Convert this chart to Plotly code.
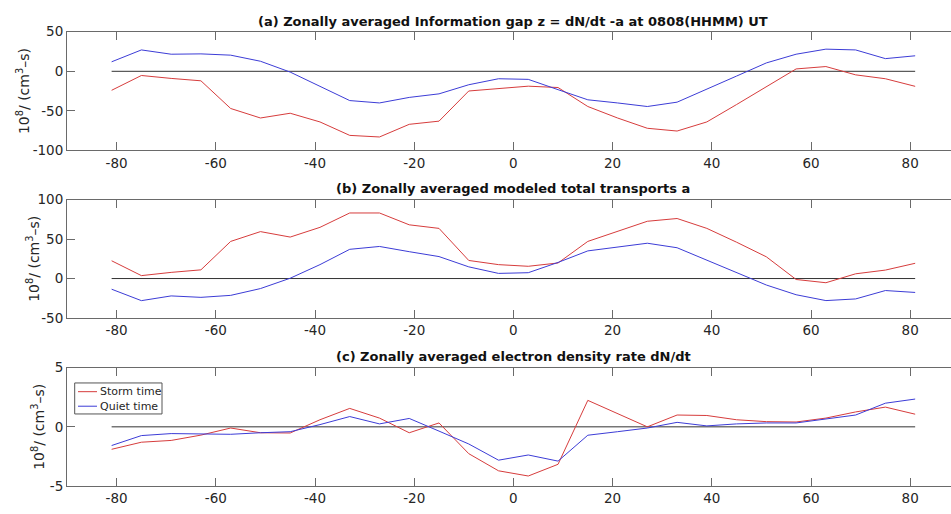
import plotly.graph_objects as go

# Latitude grid (degrees) shared by every curve
lat = [-81, -75, -69, -63, -57, -51, -45, -39, -33, -27, -21, -15, -9, -3,
       3, 9, 15, 21, 27, 33, 39, 45, 51, 57, 63, 69, 75, 81]

# (a) information gap z = dN/dt - a
gap_storm = [-24, -5.3, -9, -12, -47, -59, -53, -64, -81, -83, -67, -63, -24.9, -21.6,
             -18.8, -20.5, -44.5, -59, -72, -75.5, -64, -42, -19, 3, 6, -4.5, -9.4, -19]
gap_quiet = [12, 27, 21.6, 22, 20.4, 12.7, -1, -19, -37, -40, -33, -28.5, -17, -9.4,
             -10.2, -23.2, -36, -40, -44.5, -39, -23, -6, 10.6, 21.6, 28, 27, 16, 19.6]

# (b) modeled total transports a
trans_storm = [22.5, 3.7, 7.8, 11, 47, 59.4, 52.5, 64.8, 83, 83, 68, 63.5, 22.9, 17.6,
               15.5, 19.7, 47, 59.4, 72.5, 76, 63.5, 46, 27.5, -1.2, -5.3, 6, 10.7, 19.3]
trans_quiet = [-13.5, -28, -22, -23.8, -21.3, -12.7, 0.4, 17.6, 37, 40.6, 34, 27.8, 14.8, 6.5,
               7.4, 20.4, 35, 40, 44.7, 39, 23.4, 7, -8.2, -20.5, -27.9, -25.8, -15.2, -17.6]

# (c) electron density rate dN/dt
rate_storm = [-1.9, -1.3, -1.15, -0.7, -0.1, -0.5, -0.52, 0.6, 1.56, 0.74, -0.5, 0.33, -2.27, -3.72,
              -4.16, -3.17, 2.24, 1.15, 0.0, 1.0, 0.96, 0.6, 0.44, 0.41, 0.74, 1.26, 1.67, 1.07]
rate_quiet = [-1.58, -0.74, -0.57, -0.57, -0.63, -0.5, -0.41, 0.19, 0.87, 0.25, 0.71, -0.36, -1.45, -2.82,
              -2.38, -2.9, -0.71, -0.41, -0.1, 0.38, 0.08, 0.25, 0.33, 0.33, 0.66, 1.0, 2.0, 2.35]

zero_ref = [-81, 81]

titles = [
    "(a) Zonally averaged Information gap z = dN/dt -a at 0808(HHMM) UT",
    "(b) Zonally averaged modeled total transports a",
    "(c) Zonally averaged electron density rate dN/dt",
]
legend_names = ["Storm time", "Quiet time"]
x_ticks = [-80, -60, -40, -20, 0, 20, 40, 60, 80]
y_ticks = [[-100, -50, 0, 50], [-50, 0, 50, 100], [-5, 0, 5]]
y_ranges = [[-100, 50], [-50, 100], [-5, 5]]

W, H = 951, 514
FONT = "DejaVu Sans"
TXT = "#262626"
AX = "#6a6a6a"
RED = "#d63c3c"
BLUE = "#3c3cd6"

# vertical extent of each panel, in pixels from the top
panel_px = [(24.5, 147.0), (197.7, 320.0), (371.3, 493.3)]
title_px = [14, 186, 360]
ylabel_px = [23, 33, 38]

fig = go.Figure()

series = [(gap_storm, gap_quiet), (trans_storm, trans_quiet), (rate_storm, rate_quiet)]
for i, (storm, quiet) in enumerate(series):
    n = i + 1
    xa = "x" if n == 1 else f"x{n}"
    ya = "y" if n == 1 else f"y{n}"
    fig.add_trace(go.Scatter(x=zero_ref, y=[0, 0], mode="lines",
                             line=dict(color="#333333", width=1),
                             showlegend=False, hoverinfo="skip", xaxis=xa, yaxis=ya))
    fig.add_trace(go.Scatter(x=lat, y=storm, mode="lines", name=legend_names[0],
                             line=dict(color=RED, width=1),
                             showlegend=False, xaxis=xa, yaxis=ya))
    fig.add_trace(go.Scatter(x=lat, y=quiet, mode="lines", name=legend_names[1],
                             line=dict(color=BLUE, width=1),
                             showlegend=False, xaxis=xa, yaxis=ya))

x_left = 67.0
x_right_val = -90 + (W - x_left) / 4.96

layout = dict(
    width=W, height=H,
    margin=dict(l=0, r=0, t=0, b=0),
    paper_bgcolor="white", plot_bgcolor="white",
    font=dict(family=FONT, size=13, color=TXT),
    showlegend=False,
    annotations=[],
    shapes=[],
)

for i in range(3):
    n = i + 1
    top, bot = panel_px[i]
    xkey = "xaxis" if n == 1 else f"xaxis{n}"
    ykey = "yaxis" if n == 1 else f"yaxis{n}"
    anchor_y = "y" if n == 1 else f"y{n}"
    anchor_x = "x" if n == 1 else f"x{n}"
    layout[xkey] = dict(
        domain=[x_left / W, 1.0], range=[-90, x_right_val], anchor=anchor_y,
        tickmode="array", tickvals=x_ticks, ticktext=[str(v) for v in x_ticks],
        ticks="inside", ticklen=8, tickcolor=AX, tickwidth=1,
        showline=True, linecolor=AX, linewidth=1, mirror="ticks",
        showgrid=False, zeroline=False,
        tickfont=dict(family=FONT, size=13.5, color=TXT),
    )
    layout[ykey] = dict(
        domain=[1 - bot / H, 1 - top / H], range=y_ranges[i], anchor=anchor_x,
        tickmode="array", tickvals=y_ticks[i], ticktext=[str(v) for v in y_ticks[i]],
        ticks="inside", ticklen=8, tickcolor=AX, tickwidth=1,
        showline=True, linecolor=AX, linewidth=1, mirror=False,
        showgrid=False, zeroline=False,
        tickfont=dict(family=FONT, size=13.5, color=TXT),
    )
    layout["annotations"].append(dict(
        text="<b>" + titles[i] + "</b>", x=0, xref=anchor_x,
        y=1 - title_px[i] / H, yref="paper", xanchor="center", yanchor="middle",
        showarrow=False, font=dict(family=FONT, size=13, color="#111111"),
    ))
    layout["annotations"].append(dict(
        text="10<sup>8</sup>/ (cm<sup>3</sup>\u2013s)", textangle=-90,
        x=ylabel_px[i] / W, xref="paper", y=1 - (top + bot) / 2 / H, yref="paper",
        xanchor="center", yanchor="middle", showarrow=False,
        font=dict(family=FONT, size=14, color=TXT),
    ))

# compact legend box in the lower panel
box_l, box_t, box_r, box_b = 74.7, 387.0, 162.0, 419.0
layout["shapes"].append(dict(
    type="rect", xref="paper", yref="paper",
    x0=box_l / W, x1=box_r / W, y0=1 - box_b / H, y1=1 - box_t / H,
    line=dict(color="#555555", width=1), fillcolor="white", layer="above",
))
for name, color, row_y in zip(legend_names, [RED, BLUE], [396.0, 411.0]):
    layout["shapes"].append(dict(
        type="line", xref="paper", yref="paper",
        x0=78 / W, x1=97 / W, y0=1 - row_y / H, y1=1 - row_y / H,
        line=dict(color=color, width=1), layer="above",
    ))
    layout["annotations"].append(dict(
        text=name, x=97.5 / W, xref="paper", y=1 - row_y / H, yref="paper",
        xanchor="left", yanchor="middle", showarrow=False,
        font=dict(family=FONT, size=11, color=TXT),
    ))

fig.update_layout(**layout)
fig.write_html("out.html")
